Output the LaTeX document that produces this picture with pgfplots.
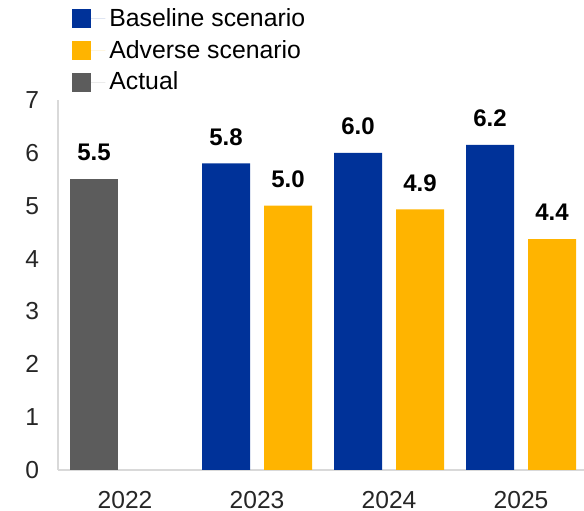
\documentclass[border=0pt]{standalone}
\usepackage{pgfplots}
\pgfplotsset{compat=1.18}
\usepackage{fontspec}
\setmainfont{Liberation Sans}
\definecolor{cblue}{HTML}{003299}
\definecolor{cyellow}{HTML}{FFB400}
\definecolor{cgrey}{HTML}{5C5C5C}
\definecolor{caxis}{HTML}{D9D9D9}
\begin{document}
\begin{tikzpicture}
\begin{axis}[
  name=a,
  scale only axis,
  width=263pt, height=185pt,
  xmin=-0.508, xmax=3.477,
  ymin=0, ymax=7,
  ytick={0,1,2,3,4,5,6,7},
  xtick={0,1,2,3},
  xticklabels={2022,2023,2024,2025},
  axis x line*=bottom, axis y line*=left,
  axis line style={caxis, line width=0.8pt},
  x axis line style={-}, y axis line style={-},
  major tick length=0pt,
  tick style={draw=none},
  /pgf/number format/assume math mode=true,
  ticklabel style={font=\fontsize{12.3}{14}\selectfont, text=black!85},
  yticklabel style={xshift=-6pt},
  xticklabel style={yshift=-7pt},
  ybar, bar width=24pt,
  nodes near coords,
  point meta=explicit symbolic,
  every node near coord/.append style={font=\bfseries\fontsize{12}{14}\selectfont, text=black, yshift=5.5pt},
  legend style={draw=none, fill=none, at={(0,1)}, anchor=south west,
    xshift=4pt, yshift=-0.5pt,
    font=\fontsize{12.4}{14}\selectfont, row sep=1.3pt,
    legend cell align=left},
  legend image code/.code={\fill[#1] (0pt,-4.75pt) rectangle (9.5pt,4.75pt);
    \path (0pt,0pt) -- (16.5pt,0pt);},
]
\addplot[fill=cblue, draw=none, bar shift=-15.5pt] coordinates {(1,5.8) [5.8] (2,6.0) [6.0] (3,6.15) [6.2]};
\addlegendentry{Baseline scenario}
\addplot[fill=cyellow, draw=none, bar shift=15.5pt] coordinates {(1,5.0) [5.0] (2,4.93) [4.9] (3,4.37) [4.4]};
\addlegendentry{Adverse scenario}
\addplot[fill=cgrey, draw=none, bar shift=-15.5pt] coordinates {(0,5.5) [5.5]};
\addlegendentry{Actual}
\end{axis}
\pgfresetboundingbox
\path[use as bounding box] ([shift={(-29pt,-20.5pt)}]a.south west) rectangle ([shift={(0pt,50pt)}]a.north east);
\end{tikzpicture}
\end{document}
